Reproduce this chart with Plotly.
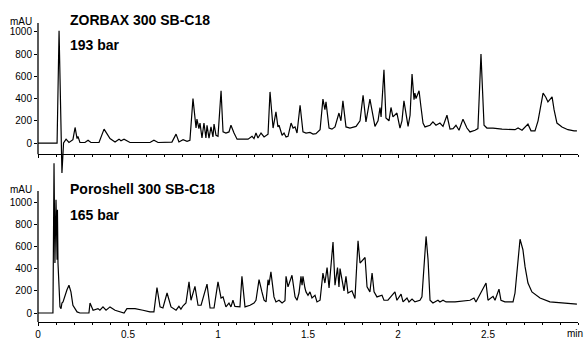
import plotly.graph_objects as go

# ZORBAX 300 SB-C18 trace: (time [min], absorbance [mAU])
zorbax_trace = [
    (0, 0), (0.106, 0), (0.117, 1010), (0.125, 300), (0.133, -270), (0.142, 0),
    (0.156, 35), (0.172, 5), (0.194, 30), (0.206, 140), (0.217, 40), (0.222, 60),
    (0.233, 5), (0.261, 5), (0.278, 25), (0.294, 5), (0.339, 5), (0.367, 125),
    (0.4, 40), (0.428, 10), (0.45, 35), (0.461, 20), (0.478, 35), (0.511, 5),
    (0.622, 5), (0.644, 25), (0.667, 5), (0.744, 8), (0.767, 80), (0.783, 10),
    (0.806, 30), (0.828, 15), (0.844, 25), (0.861, 400), (0.878, 135), (0.883, 215),
    (0.894, 130), (0.9, 180), (0.911, 45), (0.922, 180), (0.933, 45), (0.939, 160),
    (0.95, 45), (0.961, 145), (0.972, 55), (0.978, 170), (0.989, 70), (1.0, 60),
    (1.017, 470), (1.028, 100), (1.044, 90), (1.061, 100), (1.072, 160), (1.089, 90),
    (1.1, 45), (1.106, 35), (1.167, 35), (1.189, 60), (1.2, 40), (1.211, 90),
    (1.222, 45), (1.239, 90), (1.256, 55), (1.278, 80), (1.289, 460), (1.306, 135),
    (1.322, 280), (1.333, 145), (1.339, 160), (1.356, 70), (1.367, 90), (1.378, 55),
    (1.389, 60), (1.406, 180), (1.417, 135), (1.428, 145), (1.439, 90), (1.456, 340),
    (1.472, 100), (1.489, 90), (1.511, 95), (1.528, 80), (1.544, 85), (1.567, 120),
    (1.583, 395), (1.594, 300), (1.6, 370), (1.617, 135), (1.633, 125), (1.65, 145),
    (1.672, 270), (1.683, 200), (1.694, 380), (1.711, 145), (1.733, 135), (1.767, 150),
    (1.789, 200), (1.806, 430), (1.822, 190), (1.844, 395), (1.872, 150), (1.889, 200),
    (1.9, 320), (1.906, 235), (1.922, 660), (1.933, 225), (1.95, 200), (1.961, 320),
    (1.972, 235), (1.983, 250), (1.994, 270), (2.011, 135), (2.022, 200), (2.033, 380),
    (2.056, 150), (2.067, 250), (2.078, 620), (2.089, 390), (2.094, 450), (2.1, 400),
    (2.117, 470), (2.128, 320), (2.139, 180), (2.15, 145), (2.178, 160), (2.194, 190),
    (2.211, 160), (2.233, 180), (2.25, 150), (2.272, 250), (2.289, 125), (2.306, 130),
    (2.322, 160), (2.339, 115), (2.361, 215), (2.383, 135), (2.4, 100), (2.428, 115),
    (2.444, 130), (2.461, 800), (2.478, 160), (2.494, 135), (2.528, 135), (2.578, 125),
    (2.622, 125), (2.65, 120), (2.667, 135), (2.689, 115), (2.722, 170), (2.739, 110),
    (2.761, 110), (2.778, 200), (2.806, 450), (2.822, 410), (2.833, 370), (2.856, 415),
    (2.867, 300), (2.883, 180), (2.911, 145), (2.944, 120), (2.978, 110), (2.994, 110),
]

# Poroshell 300 SB-C18 trace: (time [min], absorbance [mAU])
poroshell_trace = [
    (0, 0), (0.083, 0), (0.089, 1350), (0.094, 450), (0.1, 1020), (0.106, 480),
    (0.108, 930), (0.111, 450), (0.122, 55), (0.128, 40), (0.133, 90), (0.139, 100),
    (0.161, 210), (0.172, 250), (0.183, 190), (0.194, 70), (0.217, 10), (0.233, 0),
    (0.283, 0), (0.289, 90), (0.306, 25), (0.333, 40), (0.344, 25), (0.361, 55),
    (0.378, 25), (0.4, 55), (0.428, 25), (0.456, 10), (0.478, 0), (0.494, 40),
    (0.539, 40), (0.583, 25), (0.622, 10), (0.644, 10), (0.661, 230), (0.678, 55),
    (0.694, 45), (0.717, 180), (0.739, 55), (0.767, 25), (0.783, 60), (0.794, 35),
    (0.806, 65), (0.822, 90), (0.839, 280), (0.85, 115), (0.872, 240), (0.889, 70),
    (0.906, 70), (0.939, 260), (0.956, 45), (0.978, 45), (1.0, 280), (1.017, 135),
    (1.028, 145), (1.044, 55), (1.061, 90), (1.072, 55), (1.083, 115), (1.094, 60),
    (1.122, 55), (1.133, 330), (1.15, 55), (1.178, 70), (1.2, 90), (1.211, 115),
    (1.228, 300), (1.244, 190), (1.256, 115), (1.267, 100), (1.278, 300), (1.283, 250),
    (1.294, 370), (1.311, 145), (1.322, 100), (1.339, 115), (1.356, 90), (1.372, 110),
    (1.378, 330), (1.389, 235), (1.411, 340), (1.428, 145), (1.439, 115), (1.45, 180),
    (1.461, 330), (1.467, 250), (1.472, 330), (1.483, 225), (1.489, 190), (1.5, 160),
    (1.511, 190), (1.522, 135), (1.539, 160), (1.55, 100), (1.567, 115), (1.583, 360),
    (1.594, 270), (1.606, 410), (1.617, 225), (1.639, 640), (1.65, 250), (1.664, 410),
    (1.672, 235), (1.678, 400), (1.7, 200), (1.711, 330), (1.722, 180), (1.744, 200),
    (1.761, 130), (1.778, 650), (1.789, 450), (1.817, 500), (1.828, 235), (1.844, 190),
    (1.856, 360), (1.867, 190), (1.883, 145), (1.911, 160), (1.922, 115), (1.944, 115),
    (1.983, 190), (1.994, 115), (2.017, 170), (2.028, 100), (2.05, 135), (2.061, 100),
    (2.078, 125), (2.094, 100), (2.122, 115), (2.133, 145), (2.156, 690), (2.167, 480),
    (2.178, 115), (2.194, 90), (2.222, 115), (2.233, 100), (2.25, 115), (2.267, 100),
    (2.317, 100), (2.4, 115), (2.422, 135), (2.433, 100), (2.489, 270), (2.5, 115),
    (2.528, 150), (2.539, 115), (2.561, 215), (2.572, 115), (2.594, 100), (2.639, 100),
    (2.65, 180), (2.678, 665), (2.694, 570), (2.706, 415), (2.722, 270), (2.744, 190),
    (2.789, 135), (2.844, 100), (2.9, 90), (2.956, 80), (2.994, 80),
]

zorbax_time = [p[0] for p in zorbax_trace]
zorbax_mau = [p[1] for p in zorbax_trace]
poroshell_time = [p[0] for p in poroshell_trace]
poroshell_mau = [p[1] for p in poroshell_trace]

y_ticks = [0, 200, 400, 600, 800, 1000]
x_ticks = [0, 0.5, 1, 1.5, 2, 2.5]
x_tick_labels = ["0", "0.5", "1", "1.5", "2", "2.5"]

FONT = "Arial, Liberation Sans, sans-serif"
LINE = dict(color="black", width=1.2)

fig = go.Figure()
fig.add_trace(go.Scatter(x=zorbax_time, y=zorbax_mau, mode="lines", line=LINE,
                         xaxis="x", yaxis="y", showlegend=False, hoverinfo="skip"))
fig.add_trace(go.Scatter(x=poroshell_time, y=poroshell_mau, mode="lines", line=LINE,
                         xaxis="x2", yaxis="y2", showlegend=False, hoverinfo="skip"))

common_x = dict(range=[0, 3], showgrid=False, zeroline=False, showline=True,
                automargin=False, linecolor="black", linewidth=1.3, ticks="outside",
                ticklen=3, tickcolor="black", tickvals=x_ticks, ticktext=x_tick_labels,
                minor=dict(dtick=0.1, ticks="outside", ticklen=2, tickcolor="black"),
                tickfont=dict(family=FONT, size=10, color="black"))
common_y = dict(showgrid=False, zeroline=False, showline=False, ticks="outside",
                automargin=False, ticklen=3, tickcolor="black", tickvals=y_ticks,
                tickfont=dict(family=FONT, size=10, color="black"))

fig.update_layout(
    width=584, height=340,
    margin=dict(l=38, r=6, t=23, b=18),
    paper_bgcolor="white", plot_bgcolor="rgba(0,0,0,0)",
    xaxis=dict(**common_x, domain=[0, 1], anchor="free", position=0.5615,
               showticklabels=False),
    yaxis=dict(**common_y, domain=[0.487, 1.0], range=[-300, 1080], anchor="x"),
    xaxis2=dict(**common_x, domain=[0, 1], anchor="y2"),
    yaxis2=dict(**common_y, domain=[0, 0.5498], range=[-81, 1400], anchor="x2"),
)

# y-axis lines (limited to the axis extent, not the clip area)
fig.add_shape(type="line", xref="x domain", yref="y", x0=0, x1=0, y0=-100, y1=1080,
              line=dict(color="black", width=1.3))
fig.add_shape(type="line", xref="x2 domain", yref="y2", x0=0, x1=0, y0=-81, y1=1100,
              line=dict(color="black", width=1.3))

ann_font = dict(family=FONT, size=14, color="black")
panel_titles = [
    ("<b>ZORBAX 300 SB-C18</b>", 1.010),
    ("<b>193 bar</b>", 0.926),
    ("<b>Poroshell 300 SB-C18</b>", 0.4448),
    ("<b>165 bar</b>", 0.358),
]
for text, ypos in panel_titles:
    fig.add_annotation(xref="paper", yref="paper", x=0.0556, y=ypos, text=text,
                       showarrow=False, xanchor="left", yanchor="middle", font=ann_font)

unit_font = dict(family=FONT, size=10, color="black")
for ypos in (1.005, 0.4448):
    fig.add_annotation(xref="paper", yref="paper", x=-0.0315, y=ypos, text="mAU",
                       showarrow=False, xanchor="center", yanchor="middle", font=unit_font)
fig.add_annotation(xref="paper", yref="paper", x=0.9944, y=-0.0368, text="min",
                   showarrow=False, xanchor="center", yanchor="middle",
                   font=dict(family=FONT, size=10, color="black"))

fig.write_html(
    "out.html",
    config={"displayModeBar": False},
    post_script="document.body.style.margin='0';document.body.style.overflow='hidden';",
)
